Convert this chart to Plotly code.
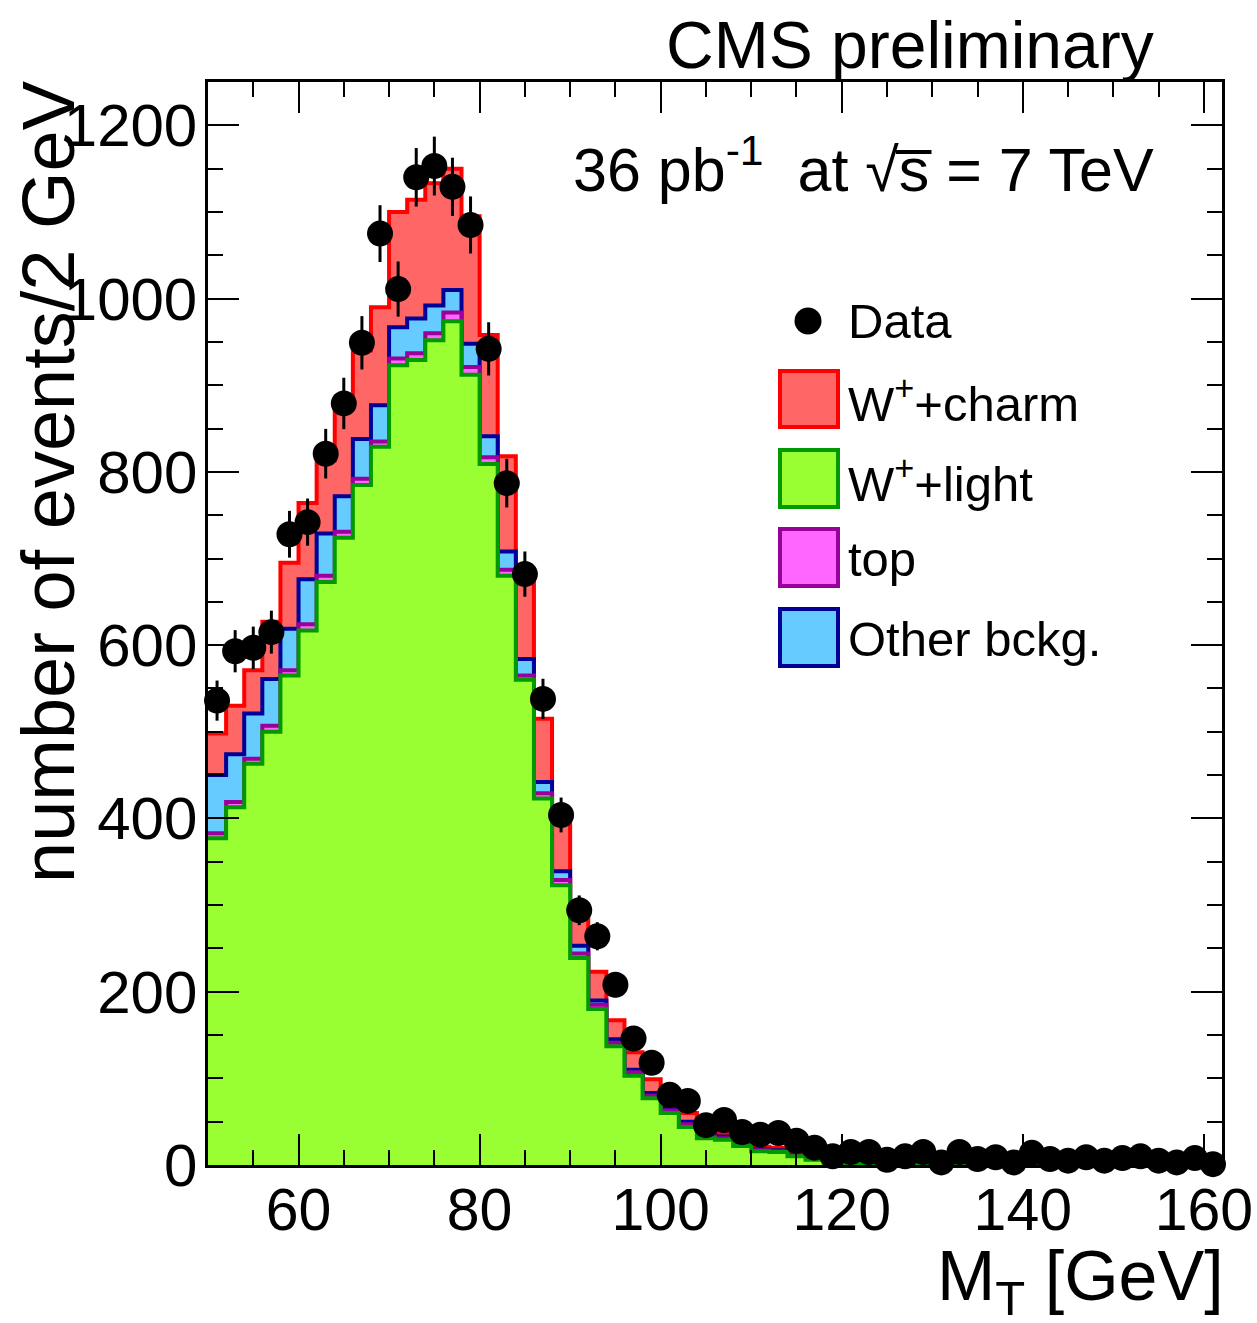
import numpy as np
import plotly.graph_objects as go

# ---------------- data ----------------
bin_low = list(range(50, 162, 2))          # 56 bins of 2 GeV, 50..162
bin_width = 2

w_light = [377, 413, 463, 500, 565, 617, 673, 724, 785, 829,
           923, 929, 952, 974, 912, 809, 680, 560, 423, 323,
           239, 180, 137, 103, 77, 60, 44, 31, 29, 22,
           16, 15, 10, 6, 3, 1.5,
           1.0, 0.8, 0.6, 0.5, 0.5, 0.4, 0.4, 0.3, 0.3, 0.3,
           0.2, 0.2, 0.2, 0.2, 0.1, 0.1, 0.1, 0.1, 0.1, 0.1]
top = [6, 6, 6, 7, 6, 7, 7, 7, 7, 6,
       8, 8, 8, 10, 9, 8, 7, 5, 6, 6,
       5, 5, 4, 4, 3, 3, 3, 2, 2, 2,
       1, 1, 1, 1, 0.5, 0.5,
       0.2, 0.2, 0.2, 0.1, 0.1, 0.1, 0.1, 0.1, 0.1, 0.1,
       0.1, 0.1, 0.1, 0.1, 0.1, 0.1, 0.1, 0.1, 0.1, 0.1]
other = [67, 55, 52, 54, 48, 52, 49, 41, 46, 42,
         36, 40, 32, 26, 27, 24, 21, 19, 13, 10,
         9, 5, 4, 3, 3, 3, 3, 2, 2, 1,
         1, 1, 1, 0.5, 0.5, 0.5,
         0.3, 0.2, 0.2, 0.2, 0.2, 0.1, 0.1, 0.1, 0.1, 0.1,
         0.1, 0.1, 0.1, 0.1, 0.1, 0.1, 0.1, 0.1, 0.1, 0.1]
w_charm = [48, 56, 50, 66, 76, 88, 84, 105, 102, 113,
           133, 137, 141, 140, 147, 117, 110, 96, 73, 59,
           34, 33, 22, 20, 16, 10, 10, 5, 4, 3,
           3, 3, 2, 1.5, 1, 0.5,
           0.6, 0.5, 0.4, 0.3, 0.3, 0.3, 0.2, 0.2, 0.2, 0.2,
           0.2, 0.1, 0.1, 0.1, 0.1, 0.1, 0.1, 0.1, 0.1, 0.1]
data = [536, 593, 597, 615, 728, 742, 821, 879, 949, 1075,
        1011, 1140, 1153, 1129, 1085, 942, 787, 682, 538, 404,
        294, 264, 208, 146, 118, 81, 74, 46, 52, 38,
        35, 37, 28, 20, 10, 15, 15, 6, 10, 15,
        3, 15, 7, 9, 3, 14, 7, 5, 9, 5,
        8, 10, 5, 3, 8, 1]

x_ticks = [60, 80, 100, 120, 140, 160]
y_ticks = [0, 200, 400, 600, 800, 1000, 1200]

# ---------------- derived ----------------
edges = np.array(bin_low + [bin_low[-1] + bin_width], dtype=float)
centers = np.array(bin_low, dtype=float) + bin_width / 2
levels_green = np.array(w_light)
levels_mag = levels_green + np.array(top)
levels_blue = levels_mag + np.array(other)
levels_red = levels_blue + np.array(w_charm)
data_arr = np.array(data, dtype=float)
data_err = np.sqrt(data_arr)

FONT = "Liberation Sans, Arial, Helvetica, sans-serif"

fig = go.Figure()


def step_trace(vals, line_col, fill_col):
    y = np.append(vals, vals[-1])
    return go.Scatter(x=edges, y=y, mode="lines", line_shape="hv",
                      line=dict(color=line_col, width=4),
                      fill="tozeroy", fillcolor=fill_col,
                      hoverinfo="skip", showlegend=False)


fig.add_trace(step_trace(levels_red, "#FF0000", "#FF6666"))
fig.add_trace(step_trace(levels_blue, "#000099", "#66CCFF"))
fig.add_trace(step_trace(levels_mag, "#990099", "#FF66FF"))
fig.add_trace(step_trace(levels_green, "#009900", "#99FF33"))

fig.add_trace(go.Scatter(
    x=centers, y=data_arr, mode="markers",
    marker=dict(color="black", size=26, symbol="circle"),
    error_y=dict(type="data", array=data_err, thickness=3, width=0, color="black"),
    cliponaxis=False, showlegend=False))

fig.update_xaxes(
    range=[50, 162], tickmode="array", tickvals=x_ticks, automargin=False,
    ticks="inside", ticklen=31, tickwidth=2, tickcolor="black",
    minor=dict(dtick=5, tick0=0, ticks="inside", ticklen=15, tickwidth=2, tickcolor="black"),
    showline=True, linewidth=2.5, linecolor="black", mirror="allticks",
    showgrid=False, zeroline=False,
    tickfont=dict(family=FONT, size=59, color="black"),
    ticklabelstandoff=-9)
fig.update_yaxes(
    range=[0, 1250], tickmode="array", tickvals=y_ticks, automargin=False,
    ticks="inside", ticklen=31, tickwidth=2, tickcolor="black",
    minor=dict(dtick=50, tick0=0, ticks="inside", ticklen=15, tickwidth=2, tickcolor="black"),
    showline=True, linewidth=2.5, linecolor="black", mirror="allticks",
    showgrid=False, zeroline=False,
    tickfont=dict(family=FONT, size=60, color="black"),
    ticklabelstandoff=-4)

L, R, T, B = 208, 35, 82, 158
PW, PH = 1257 - L - R, 1323 - T - B


def px(x):
    return (x - L) / PW


def py(y):
    return (T + PH - y) / PH


ann = []
ann.append(dict(text="CMS preliminary", x=px(1156), y=py(45), xanchor="right", yanchor="middle",
                font=dict(size=66)))
ann.append(dict(text="36 pb<sup>-1</sup>  at \u221as\u0305 = 7 TeV", x=px(1156), y=py(165),
                xanchor="right", yanchor="middle", font=dict(size=61)))
ann.append(dict(text="number of events/2 GeV", x=px(48), y=py(482), xanchor="center",
                yanchor="middle", textangle=-90, font=dict(size=74)))
ann.append(dict(text="M<sub>T</sub> [GeV]", x=px(1226), y=py(1281), xanchor="right",
                yanchor="middle", font=dict(size=70)))

leg_items = [("W<sup>+</sup>+charm", "#FF0000", "#FF6666", 371, 427),
             ("W<sup>+</sup>+light", "#009900", "#99FF33", 450, 507),
             ("top", "#990099", "#FF66FF", 529, 586),
             ("Other bckg.", "#000099", "#66CCFF", 609, 666)]
shapes = []
for label, lc, fc, y0, y1 in leg_items:
    shapes.append(dict(type="rect", xref="paper", yref="paper",
                       x0=px(780), x1=px(838), y0=py(y1), y1=py(y0),
                       line=dict(color=lc, width=4), fillcolor=fc))
    ann.append(dict(text=label, x=px(846), y=py((y0 + y1) / 2 + 1), xanchor="left",
                    yanchor="middle", font=dict(size=49)))
shapes.append(dict(type="circle", xref="paper", yref="paper",
                   x0=px(794.5), x1=px(821.5), y0=py(334.5), y1=py(307.5),
                   line=dict(color="black", width=0), fillcolor="black"))
ann.append(dict(text="Data", x=px(846), y=py(321), xanchor="left", yanchor="middle",
                font=dict(size=49)))

for a in ann:
    a.setdefault("xref", "paper")
    a.setdefault("yref", "paper")
    a["showarrow"] = False
    a["font"] = dict(family=FONT, color="black", **a["font"])

fig.update_layout(
    width=1257, height=1323,
    margin=dict(l=L, r=R, t=T, b=B, pad=0, autoexpand=False),
    plot_bgcolor="white", paper_bgcolor="white",
    showlegend=False, annotations=ann, shapes=shapes,
    font=dict(family=FONT, color="black"))

fig.write_html("out.html", config={"displayModeBar": False},
               post_script="document.body.style.margin='0px';")
